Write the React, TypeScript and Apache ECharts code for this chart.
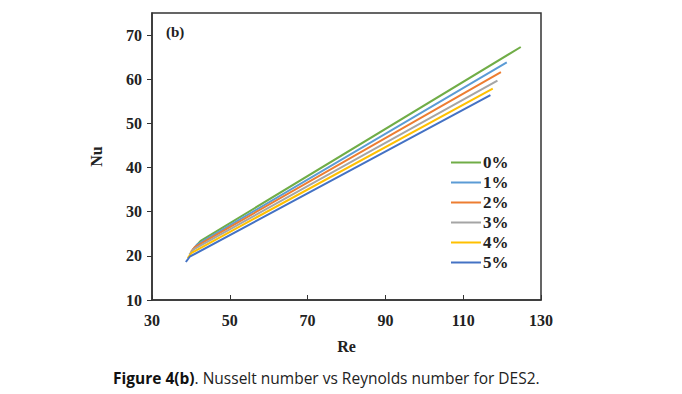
import React, { useEffect, useRef } from "react";
import * as echarts from "echarts";

const seriesNames = ["0%", "1%", "2%", "3%", "4%", "5%"];
const colors = ["#70AD47", "#5B9BD5", "#ED7D31", "#A5A5A5", "#FFC000", "#4472C4"];
const re0 = [41.5, 42.5, 124.8];
const nu0 = [22.4, 23.4, 67.3];
const re1 = [40.5, 41.5, 121.2];
const nu1 = [21.4, 22.5, 63.8];
const re2 = [40.0, 41.0, 119.7];
const nu2 = [20.9, 22.0, 61.6];
const re3 = [39.6, 40.6, 118.8];
const nu3 = [20.3, 21.4, 59.7];
const re4 = [39.2, 40.2, 117.6];
const nu4 = [19.5, 20.7, 57.9];
const re5 = [38.7, 39.7, 117.0];
const nu5 = [18.6, 19.8, 56.4];
const reSets = [re0, re1, re2, re3, re4, re5];
const nuSets = [nu0, nu1, nu2, nu3, nu4, nu5];
const yTicks = [10, 20, 30, 40, 50, 60, 70];

export default function App() {
  const ref = useRef<HTMLDivElement>(null);
  useEffect(() => {
    document.body.style.margin = "0";
    const chart = echarts.init(ref.current!, null, { renderer: "svg" });
    const serif = "'Liberation Serif', 'Times New Roman', serif";
    chart.setOption({
      animation: false,
      grid: { left: 152, top: 13, right: 141, bottom: 94, show: true, borderColor: "#333", borderWidth: 1.5, backgroundColor: "transparent" },
      title: {
        text: "{b|Figure 4(b)}{n|. Nusselt number vs Reynolds number for DES2.}",
        left: 108,
        top: 365,
        textStyle: {
          rich: {
            b: { fontFamily: "'Open Sans', 'Noto Sans', sans-serif", fontWeight: "bold", fontSize: 15.5, color: "#111" },
            n: { fontFamily: "'Open Sans', 'Noto Sans', sans-serif", fontWeight: "normal", fontSize: 15.5, color: "#222" },
          },
        },
      },
      legend: {
        orient: "vertical",
        left: 446,
        top: 149,
        itemWidth: 30,
        itemHeight: 12,
        itemGap: 3,
        icon: "path://M0,5 L30,5 L30,7 L0,7 Z",
        textStyle: { fontFamily: serif, fontWeight: "bold", fontSize: 17, lineHeight: 17, color: "#222", padding: [0, 0, 0, -3] },
        data: seriesNames,
      },
      xAxis: {
        type: "value",
        min: 30,
        max: 130,
        interval: 20,
        name: "Re",
        nameLocation: "middle",
        nameGap: 38,
        nameTextStyle: { fontFamily: serif, fontWeight: "bold", fontSize: 16, color: "#222" },
        axisLine: { show: true, lineStyle: { color: "#333", width: 1.5 } },
        axisTick: { show: true, inside: true, length: 5, lineStyle: { color: "#333" } },
        axisLabel: { fontFamily: serif, fontWeight: "bold", fontSize: 16, color: "#222", margin: 12 },
        splitLine: { show: false },
      },
      yAxis: {
        type: "value",
        min: 10,
        max: 75,
        interval: 10,
        name: "Nu",
        nameLocation: "middle",
        nameGap: 48,
        nameRotate: 90,
        nameTextStyle: { fontFamily: serif, fontWeight: "bold", fontSize: 16, color: "#222" },
        axisLine: { show: true, lineStyle: { color: "#333", width: 1.5 } },
        axisTick: { show: true, length: 5, customValues: yTicks, lineStyle: { color: "#333" } },
        axisLabel: { fontFamily: serif, fontWeight: "bold", fontSize: 16, color: "#222", margin: 10, customValues: yTicks },
        splitLine: { show: false },
      },
      graphic: [
        {
          type: "text",
          left: 166,
          top: 24,
          style: { text: "(b)", fontFamily: serif, fontWeight: "bold", fontSize: 15, fill: "#222" },
        },
      ],
      series: seriesNames.map((name, i) => ({
        name,
        type: "line",
        showSymbol: false,
        symbol: "none",
        data: reSets[i].map((r, j) => [r, nuSets[i][j]]),
        lineStyle: { color: colors[i], width: 2 },
        itemStyle: { color: colors[i] },
      })),
    });
    return () => chart.dispose();
  }, []);
  return <div ref={ref} style={{ width: 682, height: 394 }} />;
}
